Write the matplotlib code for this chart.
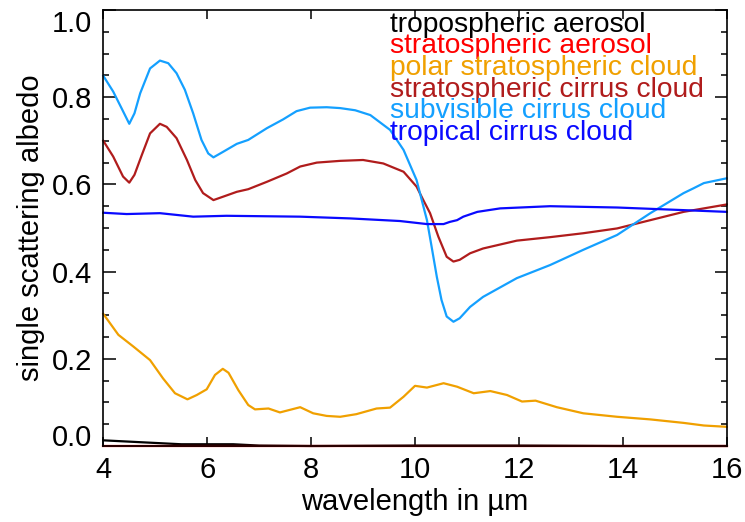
import matplotlib
matplotlib.use("Agg")
import matplotlib.pyplot as plt
from matplotlib.ticker import FixedLocator, MultipleLocator, FormatStrFormatter

plt.rcParams['font.family'] = ['Liberation Sans', 'DejaVu Sans']

# ---- data ----
x_subvis = [4.0, 4.19, 4.35, 4.50, 4.60, 4.71, 4.90, 5.09, 5.25, 5.41, 5.57, 5.73, 5.89, 6.02,
            6.12, 6.31, 6.57, 6.79, 7.15, 7.46, 7.72, 7.98, 8.30, 8.56, 8.85, 9.14, 9.52, 9.78,
            10.03, 10.13, 10.23, 10.32, 10.42, 10.51, 10.61, 10.74, 10.86, 11.06, 11.31, 11.96,
            12.60, 13.24, 13.89, 14.53, 15.17, 15.36, 15.56, 16.0]
y_subvis = [0.849, 0.813, 0.775, 0.739, 0.763, 0.809, 0.866, 0.884, 0.878, 0.855, 0.817, 0.763,
            0.702, 0.671, 0.662, 0.675, 0.693, 0.702, 0.729, 0.749, 0.768, 0.776, 0.777, 0.775,
            0.770, 0.759, 0.725, 0.679, 0.610, 0.564, 0.518, 0.457, 0.388, 0.335, 0.297, 0.285,
            0.293, 0.319, 0.342, 0.385, 0.415, 0.450, 0.484, 0.534, 0.580, 0.591, 0.603, 0.614]

x_stratci = [4.0, 4.19, 4.38, 4.50, 4.60, 4.74, 4.90, 5.09, 5.22, 5.41, 5.61, 5.77, 5.92, 6.12,
             6.31, 6.57, 6.79, 7.15, 7.53, 7.79, 8.11, 8.56, 9.0, 9.39, 9.78, 10.03, 10.16,
             10.29, 10.45, 10.61, 10.74, 10.86, 11.06, 11.31, 11.96, 12.60, 13.24, 13.89, 14.53,
             15.17, 16.0]
y_stratci = [0.700, 0.664, 0.618, 0.604, 0.622, 0.667, 0.717, 0.739, 0.732, 0.706, 0.656, 0.610,
             0.580, 0.564, 0.572, 0.583, 0.589, 0.606, 0.625, 0.641, 0.650, 0.654, 0.656, 0.648,
             0.629, 0.595, 0.564, 0.534, 0.480, 0.434, 0.423, 0.427, 0.442, 0.453, 0.471, 0.479,
             0.488, 0.499, 0.518, 0.537, 0.554]

x_tropci = [4.0, 4.45, 5.09, 5.73, 6.37, 7.79, 8.75, 9.71, 10.23, 10.55, 10.67, 10.81, 10.93,
            11.20, 11.64, 12.60, 13.89, 15.17, 16.0]
y_tropci = [0.535, 0.532, 0.534, 0.526, 0.528, 0.526, 0.522, 0.516, 0.509, 0.509, 0.514, 0.518,
            0.526, 0.537, 0.545, 0.550, 0.547, 0.541, 0.537]

x_psc = [4.0, 4.29, 4.58, 4.90, 5.15, 5.38, 5.62, 5.80, 5.99, 6.15, 6.30, 6.41, 6.60, 6.79, 6.92,
         7.18, 7.40, 7.79, 8.04, 8.30, 8.56, 8.87, 9.26, 9.52, 9.78, 10.0, 10.23, 10.55, 10.81,
         11.13, 11.45, 11.77, 12.06, 12.32, 12.73, 13.24, 13.89, 14.53, 15.17, 15.56, 16.0]
y_psc = [0.303, 0.255, 0.228, 0.197, 0.155, 0.121, 0.107, 0.117, 0.130, 0.163, 0.177, 0.168,
         0.128, 0.094, 0.084, 0.086, 0.077, 0.089, 0.075, 0.069, 0.067, 0.073, 0.086, 0.088,
         0.113, 0.138, 0.134, 0.144, 0.136, 0.121, 0.126, 0.117, 0.102, 0.104, 0.089, 0.075,
         0.067, 0.061, 0.053, 0.047, 0.044]

x_tropaer = [4.0, 4.5, 5.0, 5.5, 6.0, 6.5, 7.0, 8.0, 10.0, 12.0, 14.0, 16.0]
y_tropaer = [0.013, 0.010, 0.007, 0.004, 0.004, 0.004, 0.001, 0.0, 0.001, 0.001, 0.0, 0.0]

x_strataer = [4.0, 8.0, 12.0, 16.0]
y_strataer = [0.0, 0.0, 0.0, 0.0]

labels = ["tropospheric aerosol", "stratospheric aerosol", "polar stratospheric cloud",
          "stratospheric cirrus cloud", "subvisible cirrus cloud", "tropical cirrus cloud"]
colors = ["#000000", "#FF0000", "#F0A000", "#B01C1C", "#14A0FF", "#0A0AFF"]
yticks = [0.0, 0.2, 0.4, 0.6, 0.8, 1.0]
xticks = [4, 6, 8, 10, 12, 14, 16]

# ---- figure ----
W, H = 745, 522
fig = plt.figure(figsize=(W / 100, H / 100), dpi=100)
ax = fig.add_axes([103.3 / W, 1 - 446 / H, (726.7 - 103.3) / W, (446 - 10) / H])

series = [(x_tropaer, y_tropaer), (x_strataer, y_strataer), (x_psc, y_psc),
          (x_stratci, y_stratci), (x_subvis, y_subvis), (x_tropci, y_tropci)]
for (xs, ys), c in zip(series, colors):
    ax.plot(xs, ys, color=c, lw=1.6, clip_on=False, solid_joinstyle='round')

ax.set_xlim(4, 16)
ax.set_ylim(0, 1.0)
ax.xaxis.set_major_locator(FixedLocator(xticks))
ax.yaxis.set_major_locator(FixedLocator(yticks))
ax.yaxis.set_minor_locator(MultipleLocator(0.05))
ax.yaxis.set_major_formatter(FormatStrFormatter('%.1f'))
ax.tick_params(axis='both', which='both', direction='in', top=True, right=True,
               labelsize=21, width=1.1, colors='black')
ax.tick_params(axis='x', which='major', length=6.5, pad=7)
ax.tick_params(axis='y', which='major', length=9, pad=8)
ax.tick_params(axis='y', which='minor', length=4.5)
for s in ax.spines.values():
    s.set_linewidth(1.2)

ymt = ax.yaxis.get_major_ticks()
ymt[0].label1.set_va('baseline')
ymt[-1].label1.set_va('top')

ax.set_xlabel("wavelength in µm", fontsize=21, labelpad=3)
ax.set_ylabel("single scattering albedo", fontsize=21, labelpad=5)

for i, (lab, c) in enumerate(zip(labels, colors)):
    fig.text(390 / W, 1 - (31.7 + 21.7 * i) / H, lab, color=c, fontsize=20.3,
             ha='left', va='baseline')

fig.savefig("out.png", dpi=100)
